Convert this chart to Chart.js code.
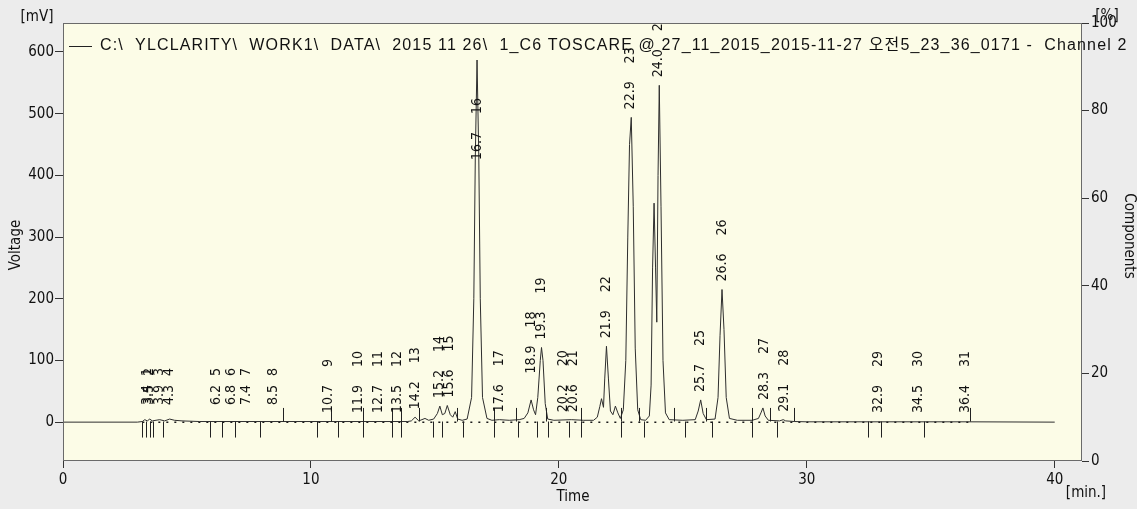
<!DOCTYPE html>
<html>
<head>
<meta charset="utf-8">
<script src="https://cdn.jsdelivr.net/npm/chart.js@4.4.1/dist/chart.umd.min.js"></script>
<style>
  html, body { margin: 0; padding: 0; background: #ececec; }
  #wrap { width: 1137px; height: 509px; }
</style>
</head>
<body>
<div id="wrap"><canvas id="chromChart"></canvas></div>
<script>
// chromatogram trace (time in min, signal in mV)
const times = [
  0, 3.0, 3.2, 3.3, 3.4, 3.5, 3.6, 3.9, 4.1, 4.3, 4.5, 4.8, 5.5, 13.9,
  14.05, 14.2, 14.35, 14.6, 14.75, 14.95, 15.1, 15.2, 15.3, 15.4, 15.5, 15.62, 15.72, 15.82, 15.92,
  16.1, 16.3, 16.48, 16.57, 16.63, 16.7, 16.77, 16.83, 16.92, 17.1, 17.3, 17.6, 18.0, 18.4,
  18.6, 18.75, 18.88, 18.98, 19.06, 19.15, 19.25, 19.3, 19.36, 19.45, 19.55, 19.8, 20.5, 21.0,
  21.4, 21.55, 21.65, 21.72, 21.8, 21.85, 21.92, 22.0, 22.08, 22.18, 22.28, 22.38, 22.48,
  22.6, 22.7, 22.78, 22.85, 22.92, 23.0, 23.08, 23.18, 23.3, 23.5,
  23.65, 23.72, 23.78, 23.84, 23.9, 23.95, 24.0, 24.05, 24.12, 24.2, 24.3, 24.45, 25.0,
  25.5, 25.62, 25.72, 25.82, 25.95, 26.3, 26.42, 26.5, 26.58, 26.66, 26.75, 26.88, 27.2,
  27.8, 28.05, 28.15, 28.23, 28.32, 28.45, 28.9, 29.05, 29.15, 29.5, 30.0, 36.5, 40.0
];
const signal = [
  0, 0, 1, 4, 2, 5, 2, 4, 2, 5, 3, 2, 1, 1,
  2, 8, 2, 6, 3, 5, 14, 26, 12, 14, 27, 12, 8, 17, 5,
  3, 5, 40, 200, 430, 587, 430, 200, 40, 6, 3, 4, 3, 4,
  6, 15, 36, 20, 12, 40, 100, 121, 100, 30, 5, 3, 4, 3,
  3, 8, 25, 38, 24, 70, 123, 70, 18, 12, 26, 15, 6,
  20, 100, 300, 450, 494, 350, 120, 20, 4, 3,
  10, 60, 250, 355, 250, 162, 400, 546, 350, 100, 15, 4, 3,
  4, 18, 36, 14, 4, 5, 40, 140, 215, 150, 40, 6, 3,
  3, 6, 15, 23, 10, 3, 2, 4, 2, 1, 0.5, 0.5, 0
];

// integration baseline
const baselineTimes = [3.2, 36.6];
const baselineLevels = [0, 0];

// peak table
const peakNumbers = [
  1, 2, 3, 4, 5, 6, 7, 8, 9, 10, 11, 12, 13, 14, 15, 16,
  17, 18, 19, 20, 21, 22, 23, 24, 25, 26, 27, 28, 29, 30, 31
];
const peakTimes = [
  3.4, 3.5, 3.9, 4.3, 6.2, 6.8, 7.4, 8.5, 10.7, 11.9, 12.7, 13.5, 14.2, 15.2, 15.6, 16.7,
  17.6, 18.9, 19.3, 20.2, 20.6, 21.9, 22.9, 24.0, 25.7, 26.6, 28.3, 29.1, 32.9, 34.5, 36.4
];
const peakHeights = [
  6, 6, 5, 6, 3, 3, 3, 3, 1, 1, 1, 1, 8, 26, 27, 587,
  3, 36, 121, 3, 3, 123, 494, 546, 36, 215, 23, 4, 1, 1, 1
];

// peak start / end marks
const startMarks = [
  3.17, 3.35, 3.51, 3.62, 4.05, 5.93, 6.42, 6.92, 7.94, 10.25, 11.1, 12.1, 13.28, 13.65,
  14.93, 15.3, 16.14, 17.4, 18.34, 19.1, 19.55, 20.42, 20.88, 22.49, 23.44, 25.08, 26.18,
  27.77, 28.81, 32.47, 33.0, 34.73
];
const endMarks = [
  8.86, 10.8, 12.1, 13.27, 13.65, 14.35, 15.88, 17.4, 18.29, 19.47, 20.88, 22.5, 23.24,
  24.65, 25.93, 27.77, 28.5, 29.5, 36.57
];

const xTicks = [0, 10, 20, 30, 40];
const voltTicks = [0, 100, 200, 300, 400, 500, 600];
const pctTicks = [0, 20, 40, 60, 80, 100];

const fileLabel = 'C:\\  YLCLARITY\\  WORK1\\  DATA\\  2015 11 26\\  1_C6 TOSCARE @ 27_11_2015_2015-11-27 오전5_23_36_0171 -  Channel 2';

const tickFont = { family: '"DejaVu Sans Condensed", "DejaVu Sans", sans-serif', size: 15 };
const labelFont = '14px "DejaVu Sans Condensed", "DejaVu Sans", sans-serif';

// background + frame
const framePlugin = {
  id: 'frame',
  beforeDraw(chart) {
    const { ctx, chartArea: a } = chart;
    ctx.save();
    ctx.fillStyle = '#ececec';
    ctx.fillRect(0, 0, chart.width, chart.height);
    ctx.fillStyle = '#fcfce7';
    ctx.fillRect(a.left, a.top, a.right - a.left, a.bottom - a.top);
    ctx.restore();
  },
  afterDraw(chart) {
    const { ctx, chartArea: a } = chart;
    ctx.save();
    ctx.strokeStyle = '#6a6a6a';
    ctx.lineWidth = 1;
    ctx.strokeRect(a.left + 0.5, a.top + 0.5, a.right - a.left - 1, a.bottom - a.top - 1);
    ctx.restore();
  }
};

// peak marks and rotated peak labels
const peakPlugin = {
  id: 'peaks',
  afterDatasetsDraw(chart) {
    const { ctx, chartArea: a, scales } = chart;
    const x = scales.x, y = scales.y;
    ctx.save();
    ctx.beginPath();
    ctx.rect(a.left, a.top, a.right - a.left, a.bottom - a.top);
    ctx.clip();

    ctx.strokeStyle = '#222';
    ctx.lineWidth = 1;
    startMarks.forEach(t => {
      const px = Math.round(x.getPixelForValue(t)) + 0.5;
      ctx.beginPath();
      ctx.moveTo(px, y.getPixelForValue(1));
      ctx.lineTo(px, y.getPixelForValue(-25));
      ctx.stroke();
    });
    endMarks.forEach(t => {
      const px = Math.round(x.getPixelForValue(t)) + 0.5;
      ctx.beginPath();
      ctx.moveTo(px, y.getPixelForValue(1));
      ctx.lineTo(px, y.getPixelForValue(23));
      ctx.stroke();
    });

    // labels sit just above the apex; a couple were moved by the software
    const moved = { 16: 412, 18: 66 };
    ctx.fillStyle = '#111';
    ctx.font = labelFont;
    ctx.textAlign = 'left';
    ctx.textBaseline = 'middle';
    peakTimes.forEach((t, i) => {
      const n = peakNumbers[i];
      const txt = t.toFixed(1);
      const short = txt.length < 4;
      const level = moved[n] !== undefined ? moved[n] : peakHeights[i];
      const px = x.getPixelForValue(t);
      const bottom = Math.min(y.getPixelForValue(level) - 8, short ? 405 : 413);
      ctx.save();
      ctx.translate(px, bottom);
      ctx.rotate(-Math.PI / 2);
      ctx.fillText(txt, 0, 0);
      ctx.fillText(String(n), short ? 29 : 46, 0);
      ctx.restore();
    });
    ctx.restore();
  }
};

// axis titles, unit labels and file legend
const textPlugin = {
  id: 'texts',
  afterDraw(chart) {
    const { ctx } = chart;
    const f = '15px "DejaVu Sans Condensed", "DejaVu Sans", sans-serif';
    ctx.save();
    ctx.fillStyle = '#111';
    ctx.font = f;
    ctx.textAlign = 'center';
    ctx.textBaseline = 'middle';
    ctx.fillText('[mV]', 37, 17);
    ctx.fillText('Time', 573, 497);
    ctx.fillText('[min.]', 1086, 493);
    ctx.fillText('[%]', 1107, 16);

    ctx.save();
    ctx.translate(16, 245);
    ctx.rotate(-Math.PI / 2);
    ctx.fillText('Voltage', 0, 0);
    ctx.restore();

    ctx.save();
    ctx.translate(1129, 236);
    ctx.rotate(Math.PI / 2);
    ctx.fillText('Components', 0, 0);
    ctx.restore();

    // legend
    ctx.strokeStyle = '#222';
    ctx.lineWidth = 1;
    ctx.beginPath();
    ctx.moveTo(69, 46.5);
    ctx.lineTo(92, 46.5);
    ctx.stroke();
    ctx.font = '16px "Liberation Sans", Arial, "Noto Sans CJK KR", sans-serif';
    if ('letterSpacing' in ctx) ctx.letterSpacing = '1.15px';
    ctx.textAlign = 'left';
    ctx.fillText(fileLabel, 100, 46);
    ctx.restore();
  }
};

const ctx = document.getElementById('chromChart').getContext('2d');
new Chart(ctx, {
  type: 'line',
  data: {
    datasets: [
      {
        label: 'Channel 2',
        data: times.map((t, i) => ({ x: t, y: signal[i] })),
        borderColor: '#2e2e2e',
        borderWidth: 1,
        pointRadius: 0,
        tension: 0,
        yAxisID: 'y'
      },
      {
        label: 'Baseline',
        data: baselineTimes.map((t, i) => ({ x: t, y: baselineLevels[i] })),
        borderColor: '#1a1a1a',
        borderWidth: 1.5,
        borderDash: [2, 6],
        pointRadius: 0,
        yAxisID: 'y'
      }
    ]
  },
  options: {
    responsive: true,
    maintainAspectRatio: false,
    animation: false,
    layout: { padding: { top: 23, left: 0, right: 0, bottom: 0 } },
    plugins: {
      legend: { display: false },
      tooltip: { enabled: false }
    },
    scales: {
      x: {
        type: 'linear',
        min: 0,
        max: 41.1,
        afterBuildTicks: s => { s.ticks = xTicks.map(v => ({ value: v })); },
        afterFit: s => { s.height = 48; },
        grid: { drawOnChartArea: false, tickLength: 7, tickColor: '#333' },
        border: { display: false },
        ticks: { color: '#111', font: tickFont, padding: 3, maxRotation: 0 }
      },
      y: {
        position: 'left',
        min: -63,
        max: 647,
        afterBuildTicks: s => { s.ticks = voltTicks.map(v => ({ value: v })); },
        afterFit: s => { s.width = 63; },
        grid: { drawOnChartArea: false, tickLength: 8, tickColor: '#333' },
        border: { display: false },
        ticks: { color: '#111', font: tickFont, padding: 1 }
      },
      y2: {
        position: 'right',
        min: 0,
        max: 100,
        afterBuildTicks: s => { s.ticks = pctTicks.map(v => ({ value: v })); },
        afterFit: s => { s.width = 55; },
        grid: { drawOnChartArea: false, tickLength: 7, tickColor: '#333' },
        border: { display: false },
        ticks: { color: '#111', font: tickFont, padding: 2 }
      }
    }
  },
  plugins: [framePlugin, peakPlugin, textPlugin]
});
</script>
</body>
</html>
